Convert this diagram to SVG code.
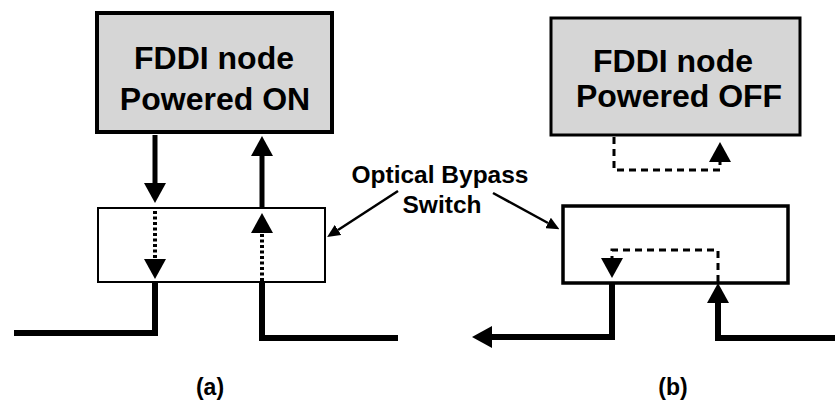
<svg xmlns="http://www.w3.org/2000/svg" width="835" height="403" viewBox="0 0 835 403">
<defs>
<style>
text{font-family:"Liberation Sans",Arial,sans-serif;font-weight:bold;fill:#000;text-anchor:middle}
.node{fill:#d6d6d6;stroke:#000}
.sw{fill:#fff;stroke:#000}
.thick{fill:none;stroke:#000;stroke-width:5}
.thicker{fill:none;stroke:#000;stroke-width:6}
.dot{fill:none;stroke:#000;stroke-width:4;stroke-dasharray:3 2.5}
.dash{fill:none;stroke:#000;stroke-width:3;stroke-dasharray:7 5}
.lbl{fill:none;stroke:#000;stroke-width:2.5}
</style>
<marker id="ah" viewBox="0 0 10 10" refX="0" refY="5" markerWidth="20" markerHeight="22" markerUnits="userSpaceOnUse" orient="auto" preserveAspectRatio="none">
<path d="M0,0 L10,5 L0,10 z" fill="#000"/>
</marker>
<marker id="ahs" viewBox="0 0 10 10" refX="0" refY="5" markerWidth="13" markerHeight="12" markerUnits="userSpaceOnUse" orient="auto" preserveAspectRatio="none">
<path d="M0,0 L10,5 L0,10 z" fill="#000"/>
</marker>
</defs>
<g id="node-on">
<rect class="node" x="97" y="13" width="235" height="119" stroke-width="4"/>
<text x="214" y="69" font-size="32">FDDI node</text>
<text x="215" y="110" font-size="32">Powered ON</text>
</g>
<g id="node-off">
<rect class="node" x="551" y="18" width="249" height="117" stroke-width="3"/>
<text x="673" y="72" font-size="32">FDDI node</text>
<text x="679" y="107" font-size="32">Powered OFF</text>
</g>
<g id="switch-a">
<rect class="sw" x="98" y="208" width="227" height="74" stroke-width="2"/>
</g>
<g id="switch-b">
<rect class="sw" x="563" y="206" width="225" height="77" stroke-width="3.5"/>
</g>
<g id="label-switch">
<text x="440" y="183" font-size="24.5">Optical Bypass</text>
<text x="442" y="213" font-size="24.5">Switch</text>
</g>
<g id="caption-a"><text x="210" y="395" font-size="23">(a)</text></g>
<g id="caption-b"><text x="673" y="395" font-size="23">(b)</text></g>
<g id="connectors">
<path class="thick" d="M155,135 V183" marker-end="url(#ah)"/>
<path class="thick" d="M262,208 V156" marker-end="url(#ah)"/>
<path class="dot" d="M155,211 V259" marker-end="url(#ah)"/>
<path class="dot" d="M262,281 V233" marker-end="url(#ah)"/>
<path class="thicker" d="M155,283 V333 H14"/>
<path class="thicker" d="M262,283 V338 H398"/>
<path class="dash" d="M614,137 V170 H720 V162" marker-end="url(#ah)"/>
<path class="dash" d="M718,282 V250 H612 V258" marker-end="url(#ah)"/>
<path class="thicker" d="M612,284 V337 H492" marker-end="url(#ah)"/>
<path class="thicker" d="M835,338 H718 V303" marker-end="url(#ah)"/>
<path class="lbl" d="M398,191 L338,230" marker-end="url(#ahs)"/>
<path class="lbl" d="M493,193 L548,223" marker-end="url(#ahs)"/>
</g>
</svg>
